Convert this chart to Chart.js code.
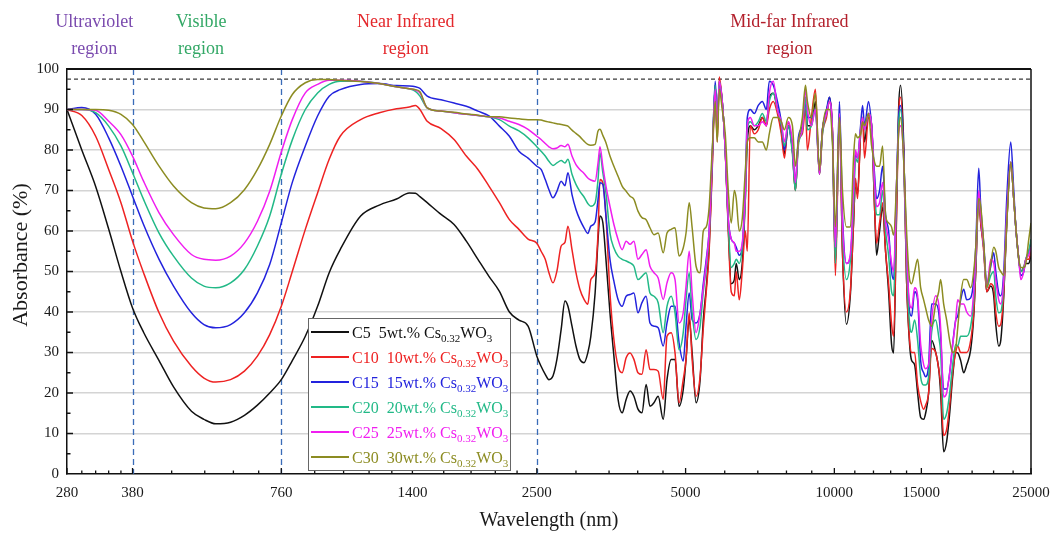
<!DOCTYPE html>
<html>
<head>
<meta charset="utf-8">
<title>Absorbance of Cs0.32WO3 films</title>
<script src="https://cdn.jsdelivr.net/npm/chart.js@4.4.1/dist/chart.umd.min.js"></script>
<style>
  html, body { margin: 0; padding: 0; background: #fff; }
  #wrap { width: 1051px; height: 533px; }
</style>
</head>
<body>
<div id="wrap"><canvas id="chart" width="1051" height="533"></canvas></div>
<script>
// wavelength grid in nm, shared by every curve
const wavelength = [
  280, 300, 320, 340, 360, 380, 400, 430, 460, 500,
  530, 560, 600, 640, 680, 720, 760, 800, 850, 900,
  950, 1000, 1100, 1200, 1300, 1380, 1420, 1450, 1500, 1600,
  1700, 1800, 1900, 2000, 2100, 2200, 2300, 2400,
  2500, 2550, 2600, 2645, 2695, 2745, 2800, 2850, 2890, 2945,
  3000, 3055, 3115, 3170, 3215, 3280, 3325, 3355, 3400, 3450,
  3515, 3580, 3650, 3720, 3790, 3860, 3930, 4005, 4080, 4160,
  4235, 4315, 4400, 4505, 4585, 4675, 4760, 4850, 4945, 5010,
  5085, 5155, 5250, 5350,
  5430, 5505, 5580, 5660, 5740, 5795, 5850, 5930, 6015, 6100,
  6185, 6275, 6330, 6420, 6510, 6605, 6665, 6760, 6885, 7015,
  7150, 7285, 7385, 7525, 7670, 7810, 7925, 8070, 8225, 8340,
  8455, 8615, 8740, 8820, 8985, 9155, 9330, 9460, 9640, 9775,
  9910, 10050, 10240, 10385, 10580, 10780,
  10935, 11035, 11140, 11300, 11405, 11510, 11725, 11895, 12060, 12175,
  12345, 12520, 12695, 12875, 13055, 13180, 13365, 13490, 13615, 13810,
  14000, 14200, 14335, 14535, 14740, 14950, 15160, 15300, 15515, 15735,
  16035, 16260, 16410, 16640, 16875, 17115, 17355, 17600, 17765, 18015,
  18270, 18530, 18875, 19145, 19325, 19595, 19780, 20055, 20340, 20725,
  21015, 21215, 21510, 21715, 22020, 22330, 22750, 23070, 23290, 23620,
  23840, 24175, 24405, 24745, 25000
];

// absorbance (%) per sample
const c5 = [
  90, 80, 71, 60.5, 50, 41, 35, 28, 21.5, 15.5,
  13.5, 12.4, 12.8, 14.5, 17, 20, 23.3, 28, 34, 41.4,
  49.7, 55.4, 63.7, 66.4, 67.9, 69.4, 69.3, 68.5, 67, 64.1,
  61.6, 57.5, 53, 48.8, 45.1, 40, 38, 36.5,
  29.1, 26.6, 24.6, 23.3, 24.2, 28.3, 35.7, 42.7, 41.4, 36.5,
  31.6, 28.3, 27.5, 29.9, 34, 44.7, 57.9, 63.7, 62.1, 53,
  39.8, 29.1, 18.4, 15.1, 18.4, 20.5, 19.2, 16, 15.1, 22.1,
  16.7, 17.6, 19.2, 13.5, 23.3, 28.3, 28.3, 16.7, 20.8, 28.3,
  38.2, 29.9, 17.6, 23.3,
  38, 46, 56, 76, 96, 84, 97, 92, 80, 61,
  47, 48, 52, 48, 52, 68, 82, 86, 85, 86,
  88, 86, 93, 94, 90, 85, 79, 86, 80, 70,
  82, 85, 93, 86, 86, 92, 74, 85, 89, 93,
  84, 52, 89, 55, 37, 44.7,
  62, 72, 69, 84, 88, 82, 89, 86, 66, 54,
  60, 66, 55, 45, 32, 29.9, 66, 90, 96, 82,
  48, 32, 28, 27, 20, 14, 13.5, 15, 20, 33,
  30, 26, 20, 5.5, 8, 15, 24, 30, 29.9, 28,
  25, 27, 30.7, 39, 50, 69, 62, 56, 45, 46.4,
  44, 37, 31.6, 33, 44, 62, 77, 68, 61, 53,
  50, 51, 52, 52, 54
];
const c10 = [
  90, 88.5, 83.4, 75.2, 67, 57.5, 49.7, 39.8, 32.8, 26.6,
  23.7, 22.7, 23.3, 25.4, 29.1, 34.4, 41.4, 50, 60.4, 69.4,
  77.7, 83.4, 87.5, 89.2, 90.2, 90.6, 91, 90, 87.1, 85.3,
  82.6, 78.5, 75.2, 71.1, 67, 62.8, 60.4, 58,
  57, 55, 53, 49.7, 47.2, 50.1, 56.3, 57.2, 61.2, 55.4,
  49.7, 45.6, 43.1, 41.9, 48, 49.7, 59.5, 72.7, 71.9, 63.7,
  44.7, 33.2, 26.6, 25, 28.7, 29.9, 28.3, 25, 24.6, 30.7,
  25.8, 25.8, 25.4, 18.4, 34, 34.9, 29.9, 17.6, 23.3, 28.3,
  39.8, 28.3, 19.2, 24.2,
  36, 45, 55, 75, 95, 82, 98, 92, 80, 60,
  45, 44, 50, 43, 50, 60, 55, 86, 84, 85,
  88, 86, 90, 92, 89, 84, 78, 87, 80, 70,
  82, 84, 90, 80, 88, 95, 74, 84, 88, 92,
  85, 49, 88, 55, 40, 45.6,
  62, 73, 68, 84, 88, 78, 88, 86, 66, 57,
  62, 67, 55, 47, 37, 34, 64, 88, 93, 80,
  48, 33, 30, 30, 22, 18, 16, 17, 20, 31,
  30, 26, 22, 9.5, 11, 17, 25, 30, 31.6, 30,
  30, 30, 33, 40, 50, 68, 62, 55, 45, 47,
  46, 40, 36.5, 37, 45, 62, 77, 68, 61, 53,
  50, 51, 53, 53, 55
];
const c15 = [
  90, 90.5, 88.8, 83, 76, 68.6, 61.6, 53, 46.4, 39.8,
  36.9, 36.1, 36.9, 39.8, 44.7, 51.7, 62, 72, 81, 88.4,
  93.3, 94.9, 96.2, 96.4, 95.9, 95.8, 95.6, 95.2, 93.3, 92.4,
  91.6, 90.8, 89.6, 88.4, 85.9, 83.4, 79.7, 78,
  76, 75.2, 72.7, 70.2, 68.2, 69.8, 72.3, 71.2, 74.4, 69,
  65.3, 62.8, 60.8, 59.4, 61.2, 62.2, 67.8, 71.9, 71.5, 63.7,
  53, 47.6, 43.1, 41.4, 43.9, 44.3, 44.7, 39.8, 42.3, 43.9,
  37.3, 36.5, 36.1, 31.6, 37.3, 41.4, 41.4, 32.4, 27.9, 36.5,
  44.7, 38.1, 37.3, 39.8,
  47, 53, 60, 78, 97, 88, 96, 92, 80, 63,
  58, 57, 56, 54, 56, 72, 88, 90, 89, 91,
  92, 90, 97, 96, 92, 87, 80, 86, 80, 72,
  83, 86, 92, 88, 88, 90, 75, 85, 90, 93,
  85, 55, 92, 64, 52, 53.8,
  68, 79, 78, 86, 91, 86, 92, 86, 74, 68,
  70, 76, 64, 60, 50, 48, 72, 88, 91, 80,
  55, 40, 39, 45, 43, 28, 25, 24, 27, 42,
  42, 40, 34, 21, 21, 25, 32, 38, 39, 43,
  45.6, 43, 43.5, 48, 56, 75.5, 66, 57, 47, 51.3,
  54.6, 50, 44.7, 44, 50, 68, 82, 70, 61, 53,
  49, 50, 53, 55, 57
];
const c20 = [
  90, 90, 89.2, 85.9, 81, 74.4, 67.8, 59.5, 53.8, 48.4,
  46.4, 46, 47.2, 50.5, 56.3, 63.7, 74, 82.5, 90, 94.1,
  96.2, 97, 97, 96.4, 95.6, 95.1, 94.5, 93.3, 90.4, 89.6,
  89.2, 88.8, 88.5, 88.2, 87.5, 85.9, 84.7, 83,
  80.8, 79.7, 78.5, 77.2, 76.2, 76.8, 77.4, 76.8, 77.7, 74,
  71.5, 69.8, 68.4, 66.8, 66.1, 67, 72.7, 79.3, 74.4, 69.4,
  59.5, 55.8, 53.8, 53, 52.6, 52.1, 51.3, 48, 48.8, 49.7,
  44.7, 43.9, 42.3, 34.9, 41.4, 43.9, 39.8, 30.7, 34.9, 43.1,
  49.7, 39.8, 33.2, 36.5,
  45, 51, 59, 78, 96, 86, 97, 92, 80, 62,
  51, 52, 53, 52, 56, 68, 85, 87, 86, 87,
  89, 87, 92, 94, 90, 86, 81, 86, 79, 70,
  81, 85, 93, 85, 86, 90, 74, 84, 89, 92,
  84, 52, 89, 60, 48, 53,
  66, 78, 77, 85, 88, 85, 89, 86, 70, 64,
  64, 70, 60, 54, 45, 44, 70, 86, 90, 78,
  52, 37, 35, 38, 33, 24, 22, 22, 24, 35,
  38, 34, 30, 13.5, 15, 20, 27, 32, 31.6, 34,
  34, 34, 36.5, 43, 52, 69, 64, 56, 46, 49,
  50, 44, 39.8, 40, 47, 63, 77, 68, 61, 53,
  50, 51, 53, 55, 58
];
const c25 = [
  90, 90, 89.8, 87.1, 83.8, 78.5, 72.3, 64.5, 59.1, 54.2,
  53, 52.8, 53.8, 57, 62.4, 69.8, 79.5, 87.5, 94.1, 96.2,
  97.2, 97.2, 97, 96.4, 95.6, 95.1, 94.8, 94.1, 90.4, 89.6,
  89.2, 88.8, 88.5, 88.2, 87.9, 87.1, 86.3, 85.1,
  83.4, 82.6, 81.6, 80.8, 80.3, 80.5, 81.1, 80.8, 81.4, 78.5,
  76.4, 75.2, 74.2, 73.1, 72.6, 72.3, 76.8, 80.8, 76, 71.1,
  66.1, 61.6, 57.9, 55.4, 57.5, 56.7, 57.5, 53, 54.2, 55.4,
  51.3, 49.7, 48.4, 43.1, 47.2, 49.7, 48, 37.3, 39.8, 46.4,
  55, 44.7, 34.9, 39.8,
  46, 52, 60, 78, 95, 86, 97, 92, 80, 63,
  58, 57, 55, 55, 57, 70, 86, 88, 86, 86,
  87, 86, 94, 97, 90, 87, 82, 87, 82, 72,
  82, 85, 95, 90, 86, 90, 74, 85, 89, 92,
  85, 56, 89, 62, 52, 54.6,
  70, 80, 78, 85, 88, 85, 89, 86, 72, 66,
  67, 72, 62, 58, 52, 50, 72, 84, 86, 78,
  55, 42, 41, 46, 44, 32, 27, 26, 27, 38,
  44, 42, 36, 19, 20, 25, 32, 38, 43, 42,
  42, 40, 39, 45, 54, 70, 64, 56, 46, 53,
  52, 48, 43, 42, 48, 64, 77, 68, 61, 53,
  48, 50, 53, 54, 56
];
const c30 = [
  90, 90, 90, 89.8, 88.8, 86.3, 82.2, 76, 71.1, 67,
  65.7, 65.5, 67, 70.2, 75.2, 81.4, 88.4, 93.7, 96.6, 97.4,
  97.4, 97.2, 96.9, 96.4, 95.6, 95.1, 94.9, 94.4, 90.4, 89.6,
  89.3, 88.9, 88.6, 88.2, 88.2, 87.9, 87.7, 87.5,
  87.5, 87.4, 87.1, 86.9, 86.7, 86.5, 86.3, 86.1, 85.9, 84.9,
  84.1, 83.3, 82.2, 81.4, 81.2, 81.4, 84.7, 85.1, 83.6, 81.8,
  78.5, 76, 73.5, 71.1, 69.8, 68.6, 67.8, 64.9, 63.3, 62.8,
  60.8, 59.1, 59.5, 54.6, 59.5, 60.4, 60.8, 53.8, 55.8, 59.5,
  67, 60.8, 51.3, 49.7,
  60, 61, 66, 80, 92, 82, 95, 90, 84, 70,
  62, 70, 68, 60, 63, 75, 82, 83, 83, 82,
  82, 80, 84, 88, 88, 87, 85, 88, 86, 76,
  82, 88, 96, 92, 88, 94, 75, 85, 90, 90,
  82, 61, 88, 70, 61, 61,
  78, 84, 83, 84, 87, 86, 89, 81, 77, 76,
  76, 81, 64, 62, 61, 59, 72, 84, 88, 78,
  60, 48, 47, 50, 53, 46, 43, 41, 38, 36.5,
  42, 45, 48, 42, 38, 33, 30, 31, 36, 44,
  48, 48, 46, 50, 56, 68, 66, 57, 46, 52,
  56, 55, 51, 50, 49, 62, 77, 68, 61, 53,
  51, 51, 52, 58, 62
];

const sampleNames = ['C5', 'C10', 'C15', 'C20', 'C25', 'C30'];
const loadings = ['5wt.%', '10wt.%', '15wt.%', '20wt.%', '25wt.%', '30wt.%'];
const sampleColors = ['#111111', '#ee2222', '#2323dd', '#22b987', '#f01ef0', '#8c8c22'];
const xTickValues = [280, 380, 760, 1400, 2500, 5000, 10000, 15000, 25000];
const regionBounds = [380, 760, 2500];
const topLevel = 97.5;

const SERIF = "'Liberation Serif', 'Times New Roman', serif";
const allSeries = [c5, c10, c15, c20, c25, c30];

// minor ticks: four evenly spaced between each pair of labelled values
const xMinor = [];
for (let i = 0; i < xTickValues.length - 1; i++) {
  const a = xTickValues[i], b = xTickValues[i + 1];
  for (let k = 1; k < 5; k++) xMinor.push(a + (b - a) * k / 5);
}

function drawRich(ctx, parts, x, y, color) {
  ctx.fillStyle = color;
  ctx.textAlign = 'left';
  ctx.textBaseline = 'alphabetic';
  let cx = x;
  parts.forEach(p => {
    ctx.font = p.sub ? '11px ' + SERIF : '16px ' + SERIF;
    ctx.fillText(p.t, cx, p.sub ? y + 4 : y);
    cx += ctx.measureText(p.t).width + (p.gap || 0);
  });
}

const decorations = {
  id: 'decorations',
  beforeDatasetsDraw(chart) {
    const { ctx, chartArea: a, scales: { x, y } } = chart;
    ctx.save();
    // dashed line near full absorbance
    const yr = y.getPixelForValue(topLevel);
    ctx.strokeStyle = '#3a3a3a';
    ctx.lineWidth = 1.2;
    ctx.setLineDash([4, 3]);
    ctx.beginPath();
    ctx.moveTo(a.left, yr);
    ctx.lineTo(a.right, yr);
    ctx.stroke();
    // UV / visible / NIR / mid-IR boundaries
    ctx.strokeStyle = '#3a6cb8';
    ctx.lineWidth = 1.3;
    ctx.setLineDash([6, 4]);
    regionBounds.forEach(v => {
      const px = Math.round(x.getPixelForValue(v)) + 0.5;
      ctx.beginPath();
      ctx.moveTo(px, a.top);
      ctx.lineTo(px, a.bottom);
      ctx.stroke();
    });
    ctx.restore();
  },
  afterDraw(chart) {
    const { ctx, chartArea: a, scales: { x, y } } = chart;
    ctx.save();

    // top and right frame
    ctx.strokeStyle = '#111';
    ctx.lineWidth = 2;
    ctx.beginPath();
    ctx.moveTo(a.left, a.top);
    ctx.lineTo(a.right, a.top);
    ctx.stroke();
    ctx.lineWidth = 1.5;
    ctx.beginPath();
    ctx.moveTo(a.right, a.top);
    ctx.lineTo(a.right, a.bottom);
    ctx.stroke();

    // inward tick marks
    ctx.lineWidth = 1.3;
    ctx.beginPath();
    xTickValues.forEach(v => {
      const px = x.getPixelForValue(v);
      ctx.moveTo(px, a.bottom);
      ctx.lineTo(px, a.bottom - 6);
    });
    xMinor.forEach(v => {
      const px = x.getPixelForValue(v);
      ctx.moveTo(px, a.bottom);
      ctx.lineTo(px, a.bottom - 3.5);
    });
    for (let v = 5; v < 100; v += 5) {
      const py = y.getPixelForValue(v);
      ctx.moveTo(a.left, py);
      ctx.lineTo(a.left + (v % 10 === 0 ? 6 : 3.5), py);
    }
    ctx.stroke();

    // legend box
    const lx = a.left + 241, ly = a.top + 249, lw = 202, lh = 152;
    ctx.fillStyle = '#fff';
    ctx.fillRect(lx, ly, lw, lh);
    ctx.strokeStyle = '#666';
    ctx.lineWidth = 1;
    ctx.strokeRect(lx + 0.5, ly + 0.5, lw, lh);
    chart.data.datasets.forEach((ds, i) => {
      const ry = ly + 14 + i * 25;
      ctx.strokeStyle = ds.borderColor;
      ctx.lineWidth = 2;
      ctx.beginPath();
      ctx.moveTo(lx + 3, ry);
      ctx.lineTo(lx + 41, ry);
      ctx.stroke();
      drawRich(ctx, [
        { t: sampleNames[i], gap: 8 },
        { t: loadings[i] + ' Cs' },
        { t: '0.32', sub: true },
        { t: 'WO' },
        { t: '3', sub: true }
      ], lx + 44, ry + 5.5, ds.borderColor);
    });

    // spectral region captions
    const regions = [
      { text: 'Ultraviolet', at: 318, color: '#7a4aae' },
      { text: 'Visible', at: 523, color: '#33a866' },
      { text: 'Near Infrared', at: 1357, color: '#e4282c' },
      { text: 'Mid-far Infrared', at: 8110, color: '#b3202c' }
    ];
    ctx.font = '18px ' + SERIF;
    ctx.textAlign = 'center';
    ctx.textBaseline = 'middle';
    regions.forEach(r => {
      const px = x.getPixelForValue(r.at);
      ctx.fillStyle = r.color;
      ctx.fillText(r.text, px, 22);
      ctx.fillText('region', px, 49);
    });

    // axis titles
    ctx.fillStyle = '#1a1a1a';
    ctx.font = '20px ' + SERIF;
    ctx.fillText('Wavelength (nm)', (a.left + a.right) / 2, 521);
    ctx.font = '22px ' + SERIF;
    ctx.translate(21, 255);
    ctx.rotate(-Math.PI / 2);
    ctx.fillText('Absorbance (%)', 0, 0);
    ctx.restore();
  }
};

const datasets = allSeries.map((vals, i) => ({
  label: sampleNames[i],
  data: wavelength.map((w, j) => ({ x: w, y: vals[j] })),
  borderColor: sampleColors[i],
  backgroundColor: sampleColors[i],
  borderWidth: 1.5,
  pointRadius: 0,
  cubicInterpolationMode: 'monotone',
  order: allSeries.length - i
}));

const ctx = document.getElementById('chart').getContext('2d');
const absChart = new Chart(ctx, {
  type: 'line',
  data: { datasets: datasets },
  options: {
    responsive: false,
    animation: false,
    devicePixelRatio: 1,
    layout: { padding: { top: 69, right: 20, left: 0, bottom: 0 } },
    plugins: {
      legend: { display: false },
      tooltip: { enabled: false }
    },
    scales: {
      x: {
        type: 'logarithmic',
        min: 280,
        max: 25000,
        afterBuildTicks: s => { s.ticks = xTickValues.map(v => ({ value: v })); },
        afterFit: s => { s.height = 59; s.paddingLeft = 0; s.paddingRight = 0; },
        grid: { display: false, drawTicks: false },
        border: { display: true, color: '#111', width: 1.5 },
        ticks: {
          autoSkip: false,
          maxRotation: 0,
          padding: 10,
          color: '#1a1a1a',
          font: { family: SERIF, size: 15 },
          callback: v => String(v)
        }
      },
      y: {
        min: 0,
        max: 100,
        afterFit: s => { s.width = 67; },
        grid: {
          drawTicks: false,
          lineWidth: 1.5,
          color: c => (c.tick.value === 0 || c.tick.value === 100) ? 'rgba(0,0,0,0)' : '#d4d4d4'
        },
        border: { display: true, color: '#111', width: 1.5 },
        ticks: {
          stepSize: 10,
          padding: 8,
          color: '#1a1a1a',
          font: { family: SERIF, size: 15 }
        }
      }
    }
  },
  plugins: [decorations]
});
</script>
</body>
</html>
